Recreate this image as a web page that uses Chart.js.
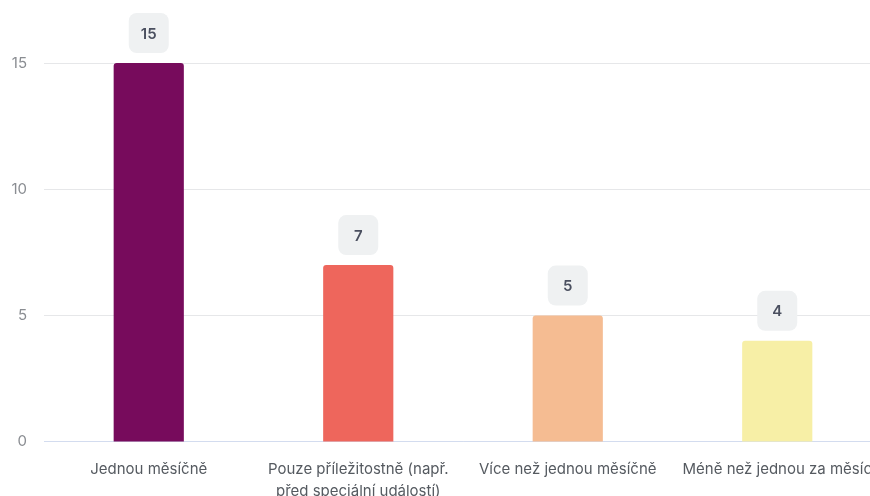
<!DOCTYPE html>
<html>
<head>
<meta charset="utf-8">
<title>Frekvence</title>
<script src="https://cdn.jsdelivr.net/npm/chart.js@4.4.1/dist/chart.umd.min.js"></script>
<style>
  html, body { margin: 0; padding: 0; overflow: hidden; background: #fff; }
  #wrap { position: absolute; left: 0; top: 0; width: 882px; height: 520px; }
</style>
</head>
<body>
<div id="wrap"><canvas id="myChart"></canvas></div>
<script>
// data
var categories = [
  'Jednou měsíčně',
  ['Pouze příležitostně (např.', 'před speciální událostí)'],
  'Více než jednou měsíčně',
  'Méně než jednou za měsíc'
];
var counts = [15, 7, 5, 4];
var barColors = ['#770b5c', '#ee665c', '#f5bc92', '#f7efa6'];
var yTicks = [0, 5, 10, 15];

// value badges above the bars
var badgePlugin = {
  id: 'badges',
  afterDatasetsDraw: function(chart) {
    var ctx = chart.ctx;
    var meta = chart.getDatasetMeta(0);
    ctx.save();
    meta.data.forEach(function(bar, i) {
      var w = 40, h = 40;
      var x = bar.x - w / 2;
      var y = bar.y - 10 - h;
      ctx.fillStyle = '#eff1f2';
      ctx.beginPath();
      ctx.roundRect(x, y, w, h, 8);
      ctx.fill();
      ctx.fillStyle = '#4b5060';
      ctx.font = '600 15px Inter';
      ctx.textAlign = 'center';
      ctx.textBaseline = 'middle';
      ctx.fillText(String(chart.data.datasets[0].data[i]), bar.x, y + h / 2 + 1);
    });
    ctx.restore();
  }
};

var ctx = document.getElementById('myChart').getContext('2d');
var myChart = new Chart(ctx, {
  type: 'bar',
  data: {
    labels: categories,
    datasets: [{
      data: counts,
      backgroundColor: barColors,
      borderRadius: 3,
      borderSkipped: 'bottom',
      categoryPercentage: 1,
      barPercentage: 0.335
    }]
  },
  options: {
    responsive: true,
    maintainAspectRatio: false,
    animation: false,
    layout: { padding: { top: 63, left: 10, right: 0, bottom: 0 } },
    plugins: {
      legend: { display: false },
      tooltip: { enabled: false }
    },
    scales: {
      x: {
        afterFit: function(axis) {
          axis.paddingLeft = 0;
          axis.paddingRight = 0;
        },
        grid: { display: false, drawTicks: false },
        border: { display: true, color: '#d3dcef', width: 1 },
        ticks: {
          color: '#555a60',
          font: { family: 'Inter', size: 15, lineHeight: 1.47 },
          padding: 17,
          maxRotation: 0,
          autoSkip: false
        }
      },
      y: {
        min: 0,
        max: 15,
        afterBuildTicks: function(axis) {
          axis.ticks = yTicks.map(function(v) { return { value: v }; });
        },
        afterFit: function(axis) {
          axis.width = 34;
        },
        grid: { color: '#e6e7e9', drawTicks: false },
        border: { display: false },
        ticks: {
          color: '#8a8d92',
          font: { family: 'Inter', size: 15 },
          padding: 17
        }
      }
    }
  },
  plugins: [badgePlugin]
});
</script>
</body>
</html>
